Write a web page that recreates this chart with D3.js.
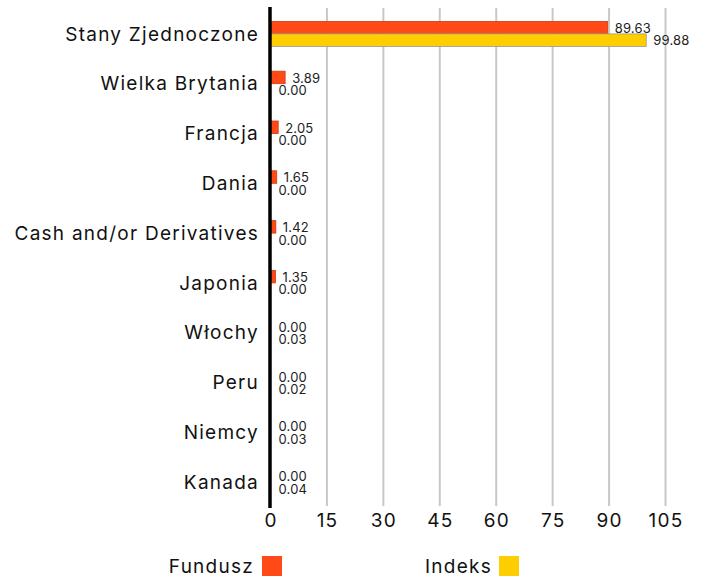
<!DOCTYPE html>
<html><head><meta charset="utf-8">
<script src="https://cdn.jsdelivr.net/npm/d3@7"></script>
<style>body{margin:0;background:#fff}svg{display:block}text{font-family:"Inter","Open Sans",sans-serif}</style>
</head><body><svg id="c" width="707" height="579"></svg>
<script>
const categories = ["Stany Zjednoczone","Wielka Brytania","Francja","Dania","Cash and/or Derivatives","Japonia","Włochy","Peru","Niemcy","Kanada"];
const fundValues = [89.63,3.89,2.05,1.65,1.42,1.35,0.00,0.00,0.00,0.00];
const indexValues = [99.88,0.00,0.00,0.00,0.00,0.00,0.03,0.02,0.03,0.04];
const ticks = [0,15,30,45,60,75,90,105];
const seriesNames = ["Fundusz","Indeks"];
const colors = ["#FF4A17","#FFCE00"];

const svg = d3.select("#c");
const x = d3.scaleLinear().domain([0,105]).range([270.5,665.5]);
const y = d3.scaleBand().domain(categories).range([9,507]);
const inner = d3.scaleBand().domain([0,1]).range([y.bandwidth()/2-12.5, y.bandwidth()/2+12.5]);

// grid
svg.append("g").selectAll("line").data(ticks.slice(1)).join("line")
  .attr("x1",d=>x(d)).attr("x2",d=>x(d)).attr("y1",8).attr("y2",506)
  .attr("stroke","#c8c8c8").attr("stroke-width",2);

// bars
const g = svg.append("g");
categories.forEach((c,i)=>{
  const vals=[fundValues[i],indexValues[i]];
  vals.forEach((v,s)=>{
    const y0 = y(c)+inner(s);
    if (v>0.1) {
      g.append("rect").attr("x",x(0)).attr("y",y0).attr("width",x(v)-x(0)).attr("height",inner.bandwidth())
        .attr("fill",colors[s]).attr("stroke",s===0?"#d23a10":"#999").attr("stroke-width",0.8);
    }
    g.append("text").attr("x",Math.max(x(v),x(0)+1)+7).attr("y",y0+inner.bandwidth()-1)
      .attr("font-size",13).attr("letter-spacing",0.2).attr("fill","#222").text(v.toFixed(2));
  });
});

// axis line
svg.append("line").attr("x1",270).attr("x2",270).attr("y1",7).attr("y2",508).attr("stroke","#000").attr("stroke-width",3.5);

const big = {size:19, ls:1.25};
// category labels
svg.append("g").selectAll("text").data(categories).join("text")
  .attr("x",259).attr("y",d=>y(d)+y.bandwidth()/2).attr("dy","0.35em")
  .attr("text-anchor","end").attr("font-size",big.size).attr("letter-spacing",big.ls).attr("fill","#111").text(d=>d);

// tick labels
svg.append("g").selectAll("text").data(ticks).join("text")
  .attr("x",d=>x(d)+0.6).attr("y",527).attr("text-anchor","middle").attr("font-size",big.size).attr("letter-spacing",big.ls).attr("fill","#111").text(d=>d);

// legend
const leg = [{t:seriesNames[0],tx:254,sx:262,c:colors[0]},{t:seriesNames[1],tx:492,sx:499,c:colors[1]}];
leg.forEach(l=>{
  svg.append("text").attr("x",l.tx).attr("y",573).attr("text-anchor","end").attr("font-size",big.size).attr("letter-spacing",big.ls).attr("fill","#111").text(l.t);
  svg.append("rect").attr("x",l.sx).attr("y",556).attr("width",20).attr("height",20).attr("fill",l.c);
});
</script></body></html>
